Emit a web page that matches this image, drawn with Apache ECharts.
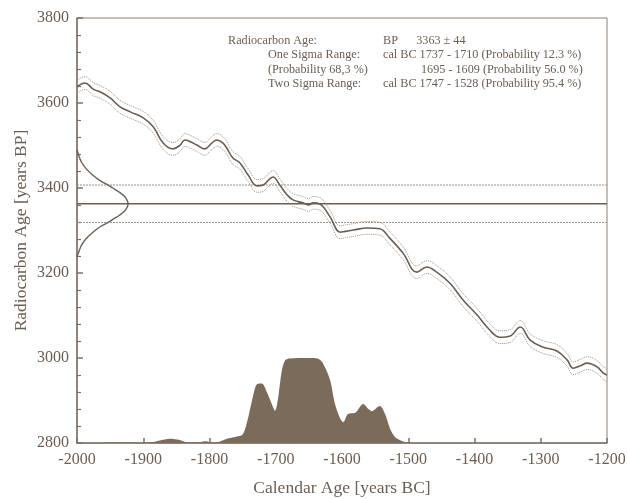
<!DOCTYPE html>
<html>
<head>
<meta charset="utf-8">
<script src="https://cdn.jsdelivr.net/npm/echarts@6/dist/echarts.min.js"></script>
<style>
html, body { margin: 0; padding: 0; background: #fff; }
#charts { width: 627px; height: 499px; }
</style>
</head>
<body>
<div id="charts"></div>
<script>
// 测年结果
var bpAge = 3363, bpErr = 44;
// 校正曲线 (年代BC, 14C年龄)
var curveData = [[-2000,3638],[-1988,3647],[-1975,3632],[-1965,3626],[-1950,3612],[-1935,3591],[-1918,3578],[-1900,3565],[-1885,3544],[-1870,3506],[-1855,3492],[-1845,3500],[-1837,3513],[-1828,3508],[-1819,3501],[-1807,3492],[-1797,3505],[-1789,3513],[-1780,3506],[-1774,3494],[-1765,3471],[-1754,3459],[-1742,3431],[-1728,3405],[-1719,3407],[-1710,3420],[-1704,3426],[-1694,3407],[-1683,3384],[-1674,3372],[-1659,3365],[-1650,3360],[-1644,3365],[-1633,3362],[-1618,3332],[-1603,3296],[-1595,3298],[-1583,3301],[-1562,3306],[-1543,3304],[-1528,3282],[-1508,3247],[-1487,3202],[-1472,3214],[-1457,3202],[-1437,3176],[-1417,3136],[-1396,3101],[-1377,3066],[-1362,3049],[-1346,3052],[-1331,3073],[-1316,3042],[-1297,3026],[-1275,3016],[-1260,2995],[-1251,2976],[-1240,2982],[-1230,2988],[-1215,2979],[-1206,2965],[-1200,2960]];
// 曲线误差带宽度
var curveBand = 15;
// 14C年龄分布 (宽度年, 14C年龄)
var ageDist = [[0,3490],[3,3475],[7,3460],[14,3445],[24,3430],[36,3416],[47,3407],[54,3400],[64,3390],[72,3380],[76,3370],[77,3363],[76,3356],[72,3346],[64,3336],[54,3326],[47,3319],[36,3310],[24,3296],[14,3281],[7,3266],[3,3251],[0,3238]];
// 校正年代概率分布
var calDist = [[-2000,2800],[-1890,2801],[-1875,2806],[-1860,2810],[-1845,2807],[-1832,2801],[-1815,2802],[-1805,2804],[-1795,2801],[-1785,2803],[-1774,2810],[-1760,2815],[-1750,2820],[-1743,2851],[-1736,2899],[-1728,2939],[-1721,2940],[-1713,2918],[-1706,2892],[-1701,2876],[-1697,2900],[-1691,2969],[-1686,2994],[-1680,2999],[-1650,3000],[-1636,2998],[-1629,2988],[-1618,2948],[-1611,2894],[-1603,2858],[-1598,2849],[-1591,2868],[-1580,2871],[-1568,2892],[-1560,2880],[-1555,2875],[-1543,2887],[-1535,2868],[-1528,2836],[-1520,2814],[-1510,2805],[-1500,2801],[-1490,2800],[-1200,2800]];
// 文字说明: [标题, 数值, 数值左边距]
var infoLines = [
	['Radiocarbon Age:', 'BP      3363 \u00b1 44', 383],
	['One Sigma Range:', 'cal BC 1737 - 1710 (Probability 12.3 %)', 383],
	['(Probability 68,3 %)', '1695 - 1609 (Probability 56.0 %)', 421],
	['Two Sigma Range:', 'cal BC 1747 - 1528 (Probability 95.4 %)', 383]
];

var xMin = -2000, xMax = -1200;
var ink = '#6b5e54', faint = '#9a9089', serif = 'Liberation Serif';

function initCharts(){
	var charts = echarts.init(document.getElementById('charts'));
	var upper = [], lower = [], gauss = [];
	for(var i = 0; i < curveData.length; i++){
		upper.push([curveData[i][0], curveData[i][1] + curveBand]);
		lower.push([curveData[i][0], curveData[i][1] - curveBand]);
	}
	for(var j = 0; j < ageDist.length; j++){
		gauss.push([xMin + ageDist[j][0], ageDist[j][1]]);
	}
	var graphics = [];
	for(var k = 0; k < infoLines.length; k++){
		graphics.push({
			type: 'text', left: k == 0 ? 228 : 268, top: 35 + k * 14.3,
			style: { text: infoLines[k][0], font: '12.2px "' + serif + '"', fill: ink }
		});
		graphics.push({
			type: 'text', left: infoLines[k][2], top: 35 + k * 14.3,
			style: { text: infoLines[k][1], font: '12.2px "' + serif + '"', fill: ink }
		});
	}
	var option = {
		animation: false,
		textStyle: { fontFamily: serif },
		grid: { left: 77, right: 20, top: 18, bottom: 56, outerBoundsMode: 'none', containLabel: false,
			show: true, borderColor: '#8a8079', borderWidth: 1 },
		xAxis: {
			type: 'value', min: xMin, max: xMax, interval: 100,
			name: 'Calendar Age [years BC]', nameLocation: 'middle', nameGap: 36, nameMoveOverlap: false,
			nameTextStyle: { fontSize: 17.5, color: ink, fontFamily: serif },
			axisLine: { lineStyle: { color: '#7d726a', width: 1.5 } },
			axisTick: { inside: true, length: 5, lineStyle: { color: '#7d726a', width: 1.5 } },
			axisLabel: { fontSize: 16, color: ink, margin: 9, fontFamily: serif, formatter: function (v) { return String(v); } },
			splitLine: { show: false }
		},
		yAxis: {
			type: 'value', min: 2800, max: 3800, interval: 200,
			name: 'Radiocarbon Age [years BP]', nameLocation: 'middle', nameGap: 47, nameMoveOverlap: false,
			nameTextStyle: { fontSize: 17.5, color: ink, fontFamily: serif },
			axisLine: { show: true, lineStyle: { color: '#7d726a', width: 1.5 } },
			axisTick: { inside: true, length: 6, lineStyle: { color: '#7d726a', width: 1.5 } },
			minorTick: { show: true, splitNumber: 5, length: 4, lineStyle: { color: '#7d726a', width: 1.2 } },
			axisLabel: { fontSize: 16, color: ink, margin: 8, fontFamily: serif, formatter: function (v) { return String(v); } },
			splitLine: { show: false }
		},
		graphic: graphics,
		series: [
			{ type: 'line', data: calDist, symbol: 'none', smooth: 0.3, z: 1,
				lineStyle: { width: 0 }, areaStyle: { color: '#7b6b5a', opacity: 1, origin: 'start' } },
			{ type: 'line', data: [[xMin, bpAge + bpErr], [xMax, bpAge + bpErr]], symbol: 'none',
				lineStyle: { color: faint, width: 1, type: [2, 1] } },
			{ type: 'line', data: [[xMin, bpAge - bpErr], [xMax, bpAge - bpErr]], symbol: 'none',
				lineStyle: { color: faint, width: 1, type: [2, 1] } },
			{ type: 'line', data: [[xMin, bpAge], [xMax, bpAge]], symbol: 'none',
				lineStyle: { color: ink, width: 1.5 } },
			{ type: 'line', data: upper, symbol: 'none', smooth: 0.4,
				lineStyle: { color: faint, width: 1, type: [1, 1] } },
			{ type: 'line', data: lower, symbol: 'none', smooth: 0.4,
				lineStyle: { color: faint, width: 1, type: [1, 1] } },
			{ type: 'line', data: curveData, symbol: 'none', smooth: 0.4,
				lineStyle: { color: ink, width: 1.6 } },
			{ type: 'line', data: gauss, symbol: 'none', smooth: 0.3,
				lineStyle: { color: ink, width: 1.4 } }
		]
	};
	charts.setOption(option);
}

initCharts();
</script>
</body>
</html>
